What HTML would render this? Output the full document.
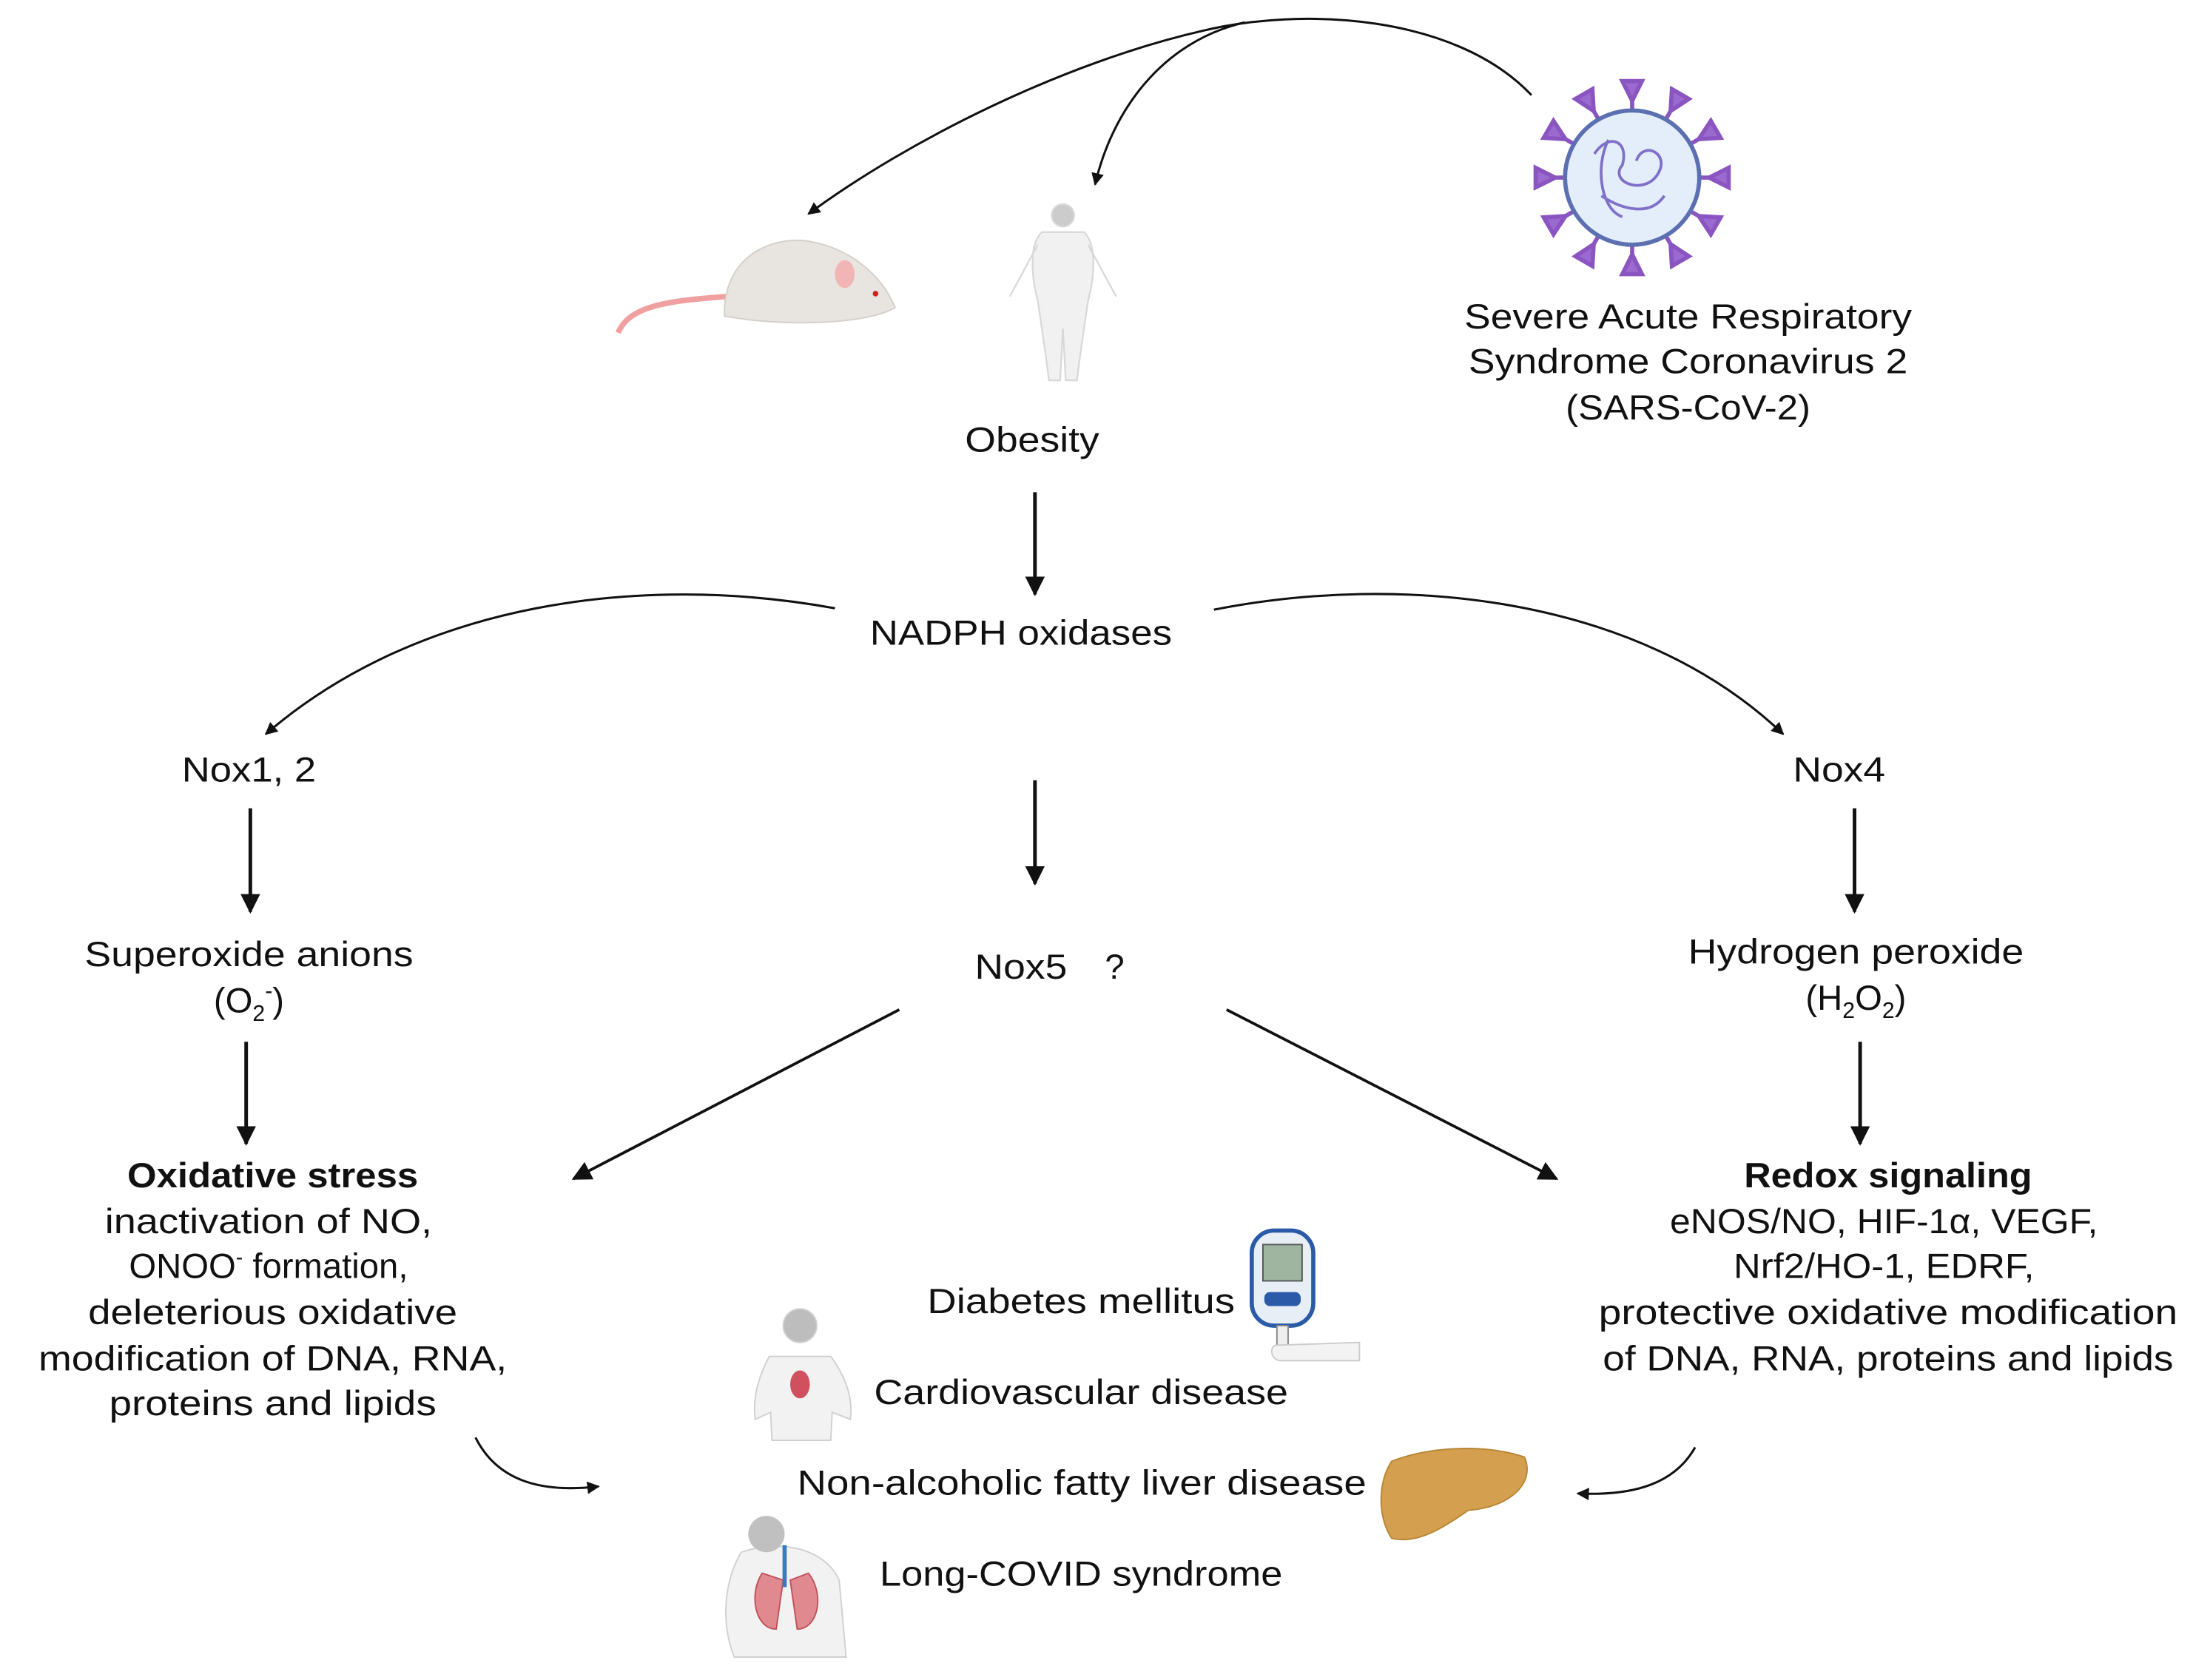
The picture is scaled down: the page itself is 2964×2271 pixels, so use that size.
<!DOCTYPE html>
<html><head><meta charset="utf-8">
<style>
html,body{margin:0;padding:0;background:#fff;}
svg{display:block;}
text{font-family:"Liberation Sans",sans-serif;fill:#111;font-size:25px;}
.b{font-weight:bold;}
</style></head>
<body>
<svg width="2964" height="2271" viewBox="0 0 1568 1201.4" xmlns="http://www.w3.org/2000/svg">
<defs>
<marker id="ah" viewBox="0 0 10 10" refX="9" refY="5" markerWidth="9" markerHeight="9" markerUnits="userSpaceOnUse" orient="auto"><path d="M0,0 L10,5 L0,10 z" fill="#111"/></marker>
<marker id="ab" viewBox="0 0 10 10" refX="9" refY="5" markerWidth="14" markerHeight="14" markerUnits="userSpaceOnUse" orient="auto"><path d="M0,0 L10,5 L0,10 z" fill="#111"/></marker>
</defs>
<g fill="none" stroke="#111" stroke-width="1.6">
<path d="M1095,68 C1040,10 930,5 860,22 C760,45 650,100 578,153" marker-end="url(#ah)"/>
<path d="M890,16 C830,30 795,80 783,132" marker-end="url(#ah)"/>
<path d="M597,435 C460,410 300,430 190,525" marker-end="url(#ah)"/>
<path d="M868,436 C1000,410 1170,425 1275,525" marker-end="url(#ah)"/>
<path d="M340,1028 C355,1058 385,1068 428,1063" marker-end="url(#ah)"/>
<path d="M1212,1035 C1198,1060 1170,1070 1128,1068" marker-end="url(#ah)"/>
</g>
<g stroke="#111" stroke-width="2.6" fill="none">
<line x1="740" y1="352" x2="740" y2="425" marker-end="url(#ab)"/>
<line x1="179" y1="578" x2="179" y2="652" marker-end="url(#ab)"/>
<line x1="740" y1="558" x2="740" y2="632" marker-end="url(#ab)"/>
<line x1="1326" y1="578" x2="1326" y2="652" marker-end="url(#ab)"/>
<line x1="176" y1="745" x2="176" y2="818" marker-end="url(#ab)"/>
<line x1="1330" y1="745" x2="1330" y2="818" marker-end="url(#ab)"/>
<line x1="643" y1="722" x2="410" y2="843" stroke-width="2" marker-end="url(#ab)"/>
<line x1="877" y1="722" x2="1113" y2="843" stroke-width="2" marker-end="url(#ab)"/>
</g>

<!-- mouse -->
<g>
<path d="M520,212 C480,215 450,218 442,238" stroke="#f0a0a0" stroke-width="4" fill="none"/>
<path d="M518,220 C520,185 548,170 575,172 C605,176 630,195 640,220 C620,232 560,234 518,226 z" fill="#e8e4e0" stroke="#d5cfca"/>
<ellipse cx="604" cy="196" rx="7" ry="10" fill="#f2b5b5"/>
<circle cx="626" cy="210" r="2" fill="#d02020"/>
</g>
<!-- obese person -->
<g fill="#f1f1f1" stroke="#d8d8d8" stroke-width="1.2">
<circle cx="760" cy="154" r="8" fill="#ccc"/>
<path d="M745,166 C735,175 738,200 742,215 C745,235 748,255 750,272 L758,272 L760,235 L762,272 L770,272 C772,255 775,235 778,215 C782,200 785,175 775,166 z"/>
<path d="M742,175 L722,212 M778,175 L798,212" fill="none"/>
</g>
<!-- virus -->
<g>
<g stroke="#8a55c0" stroke-width="3" fill="#9b6ad0">
<g id="sp"><line x1="1167" y1="80" x2="1167" y2="60"/><path d="M1160,58 L1174,58 L1167,72 z"/></g>
<use href="#sp" transform="rotate(30 1167 127)"/><use href="#sp" transform="rotate(60 1167 127)"/>
<use href="#sp" transform="rotate(90 1167 127)"/><use href="#sp" transform="rotate(120 1167 127)"/>
<use href="#sp" transform="rotate(150 1167 127)"/><use href="#sp" transform="rotate(180 1167 127)"/>
<use href="#sp" transform="rotate(210 1167 127)"/><use href="#sp" transform="rotate(240 1167 127)"/>
<use href="#sp" transform="rotate(270 1167 127)"/><use href="#sp" transform="rotate(300 1167 127)"/>
<use href="#sp" transform="rotate(330 1167 127)"/>
</g>
<circle cx="1167" cy="127" r="48" fill="#e4eefb" stroke="#5c6fb0" stroke-width="3"/>
<path d="M1140,110 C1150,95 1165,100 1160,118 C1150,130 1175,140 1185,125 C1195,110 1175,100 1170,115 M1145,140 C1160,150 1180,155 1190,140 M1150,100 C1140,120 1145,150 1160,155" fill="none" stroke="#8070c8" stroke-width="2"/>
</g>

<text x="1207" y="235" text-anchor="middle" textLength="320" lengthAdjust="spacingAndGlyphs">Severe Acute Respiratory</text>
<text x="1207" y="267" text-anchor="middle" textLength="314" lengthAdjust="spacingAndGlyphs">Syndrome Coronavirus 2</text>
<text x="1207" y="300" text-anchor="middle" textLength="175" lengthAdjust="spacingAndGlyphs">(SARS-CoV-2)</text>
<text x="738" y="323" text-anchor="middle" textLength="96" lengthAdjust="spacingAndGlyphs">Obesity</text>
<text x="730" y="461" text-anchor="middle" textLength="216" lengthAdjust="spacingAndGlyphs">NADPH oxidases</text>
<text x="178" y="559" text-anchor="middle" textLength="96" lengthAdjust="spacingAndGlyphs">Nox1, 2</text>
<text x="1315" y="559" text-anchor="middle" textLength="66" lengthAdjust="spacingAndGlyphs">Nox4</text>
<text x="178" y="691" text-anchor="middle" textLength="235" lengthAdjust="spacingAndGlyphs">Superoxide anions</text>
<text x="178" y="724" text-anchor="middle" font-size="25">(O<tspan font-size="16" dy="6">2</tspan><tspan font-size="16" dy="-16">-</tspan><tspan font-size="25" dy="10">)</tspan></text>
<text x="730" y="700" text-anchor="middle" textLength="66" lengthAdjust="spacingAndGlyphs">Nox5</text>
<text x="797" y="700" text-anchor="middle">?</text>
<text x="1327" y="689" text-anchor="middle" textLength="240" lengthAdjust="spacingAndGlyphs">Hydrogen peroxide</text>
<text x="1327" y="722" text-anchor="middle" font-size="25">(H<tspan font-size="16" dy="6">2</tspan><tspan font-size="25" dy="-6">O</tspan><tspan font-size="16" dy="6">2</tspan><tspan font-size="25" dy="-6">)</tspan></text>

<text class="b" x="195" y="849" text-anchor="middle" textLength="208" lengthAdjust="spacingAndGlyphs">Oxidative stress</text>
<text x="192" y="882" text-anchor="middle" textLength="234" lengthAdjust="spacingAndGlyphs">inactivation of NO,</text>
<text x="192" y="914" text-anchor="middle" font-size="25">ONOO<tspan font-size="15" dy="-10">-</tspan><tspan font-size="25" dy="10"> formation,</tspan></text>
<text x="195" y="947" text-anchor="middle" textLength="264" lengthAdjust="spacingAndGlyphs">deleterious oxidative</text>
<text x="195" y="980" text-anchor="middle" textLength="335" lengthAdjust="spacingAndGlyphs">modification of DNA, RNA,</text>
<text x="195" y="1012" text-anchor="middle" textLength="234" lengthAdjust="spacingAndGlyphs">proteins and lipids</text>

<text class="b" x="1350" y="849" text-anchor="middle" textLength="206" lengthAdjust="spacingAndGlyphs">Redox signaling</text>
<text x="1347" y="882" text-anchor="middle" textLength="306" lengthAdjust="spacingAndGlyphs">eNOS/NO, HIF-1α, VEGF,</text>
<text x="1347" y="914" text-anchor="middle" textLength="215" lengthAdjust="spacingAndGlyphs">Nrf2/HO-1, EDRF,</text>
<text x="1350" y="947" text-anchor="middle" textLength="414" lengthAdjust="spacingAndGlyphs">protective oxidative modification</text>
<text x="1350" y="980" text-anchor="middle" textLength="408" lengthAdjust="spacingAndGlyphs">of DNA, RNA, proteins and lipids</text>

<text x="663" y="939" textLength="220" lengthAdjust="spacingAndGlyphs">Diabetes mellitus</text>
<text x="625" y="1004" textLength="296" lengthAdjust="spacingAndGlyphs">Cardiovascular disease</text>
<text x="570" y="1069" textLength="407" lengthAdjust="spacingAndGlyphs">Non-alcoholic fatty liver disease</text>
<text x="629" y="1134" textLength="288" lengthAdjust="spacingAndGlyphs">Long-COVID syndrome</text>

<g>
<rect x="895" y="880" width="44" height="68" rx="16" fill="#e8eef6" stroke="#2a5aa8" stroke-width="3"/>
<rect x="903" y="890" width="28" height="26" fill="#9fb5a0" stroke="#555"/>
<rect x="904" y="924" width="26" height="10" rx="4" fill="#2a5aa8"/>
<rect x="913" y="948" width="8" height="14" fill="#eee" stroke="#888"/>
<path d="M912,962 L972,960 L972,973 L915,973 C908,972 908,963 912,962 z" fill="#f3f3f3" stroke="#ccc"/>
</g>
<g fill="#f2f2f2" stroke="#d0d0d0">
<circle cx="572" cy="948" r="12" fill="#bdbdbd"/>
<path d="M550,970 L594,970 C605,985 610,1000 608,1015 L595,1010 L594,1030 L552,1030 L551,1010 L540,1015 C538,1000 542,985 550,970 z"/>
<ellipse cx="572" cy="990" rx="7" ry="10" fill="#d05060" stroke="none"/>
</g>
<path d="M995,1045 C1020,1035 1060,1032 1090,1042 C1098,1060 1080,1078 1050,1080 C1035,1090 1015,1105 995,1100 C985,1085 985,1060 995,1045 z" fill="#d4a050" stroke="#b88535"/>
<g>
<path d="M530,1110 C560,1100 590,1108 600,1130 L605,1185 L525,1185 C515,1160 518,1130 530,1110 z" fill="#f2f2f2" stroke="#d0d0d0"/>
<circle cx="548" cy="1097" r="13" fill="#c0c0c0"/>
<path d="M545,1125 C535,1140 540,1165 555,1165 L560,1130 z M565,1130 L570,1165 C585,1165 590,1140 578,1125 z" fill="#e08a90" stroke="#c0505a"/>
<line x1="561" y1="1105" x2="561" y2="1135" stroke="#3a7ac0" stroke-width="3"/>
</g>
</svg>
</body></html>
